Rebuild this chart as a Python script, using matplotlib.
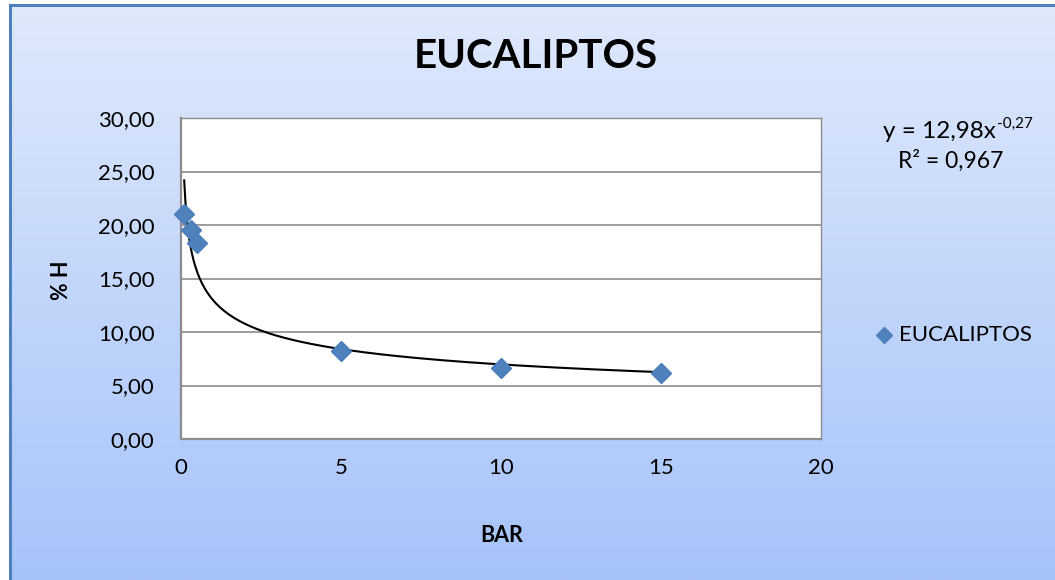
import numpy as np
import matplotlib
matplotlib.use("Agg")
import matplotlib.pyplot as plt
from matplotlib.colors import LinearSegmentedColormap

plt.rcParams['font.family'] = ['Lato', 'DejaVu Sans']

# Measured data: pressure (bar) vs moisture content (%)
bar = [0.1, 0.3, 0.5, 5, 10, 15]
humidity = [21.0, 19.5, 18.3, 8.2, 6.6, 6.2]
series_name = "EUCALIPTOS"

# Power trend line y = a * x^b
coef_a = 12.98
coef_b = -0.27
r_squared = 0.967

x_ticks = [0, 5, 10, 15, 20]
y_ticks = [0, 5, 10, 15, 20, 25, 30]


def comma(v, nd):
    return f"{v:.{nd}f}".replace('.', ',')


W, H = 1055, 580
fig = plt.figure(figsize=(W / 100, H / 100), dpi=100)
fig.patch.set_facecolor('white')

# Chart area with a vertical blue gradient and blue border
bg = fig.add_axes([10 / W, 0, 1 - 10 / W, 1 - 5 / H])
cmap = LinearSegmentedColormap.from_list('chartbg', ['#dfe9fc', '#a6c3f9'])
grad = np.linspace(0, 1, 256).reshape(-1, 1)
bg.imshow(grad, aspect='auto', cmap=cmap, extent=[0, 1, 0, 1], origin='upper')
bg.set_xlim(0, 1)
bg.set_ylim(0, 1)
bg.set_xticks([])
bg.set_yticks([])
for side in ['right', 'bottom']:
    bg.spines[side].set_visible(False)
for side in ['left', 'top']:
    bg.spines[side].set_color('#4f81bd')
    bg.spines[side].set_linewidth(2.2)

# Plot area
left, right = 181 / W, 821 / W
bottom, top = 1 - 439 / H, 1 - 118 / H
ax = fig.add_axes([left, bottom, right - left, top - bottom])
ax.set_facecolor('white')
ax.set_xlim(0, 20)
ax.set_ylim(0, 30)
ax.set_xticks(x_ticks)
ax.set_yticks(y_ticks)
ax.set_xticklabels([str(t) for t in x_ticks], fontsize=16)
ax.set_yticklabels([comma(t, 2) for t in y_ticks], fontsize=16)
ax.tick_params(axis='both', length=0)
ax.tick_params(axis='x', pad=14)
ax.tick_params(axis='y', pad=19)
ax.yaxis.grid(True, color='#8c8c8c', linewidth=1.2)
ax.set_axisbelow(True)
for side in ['top', 'right']:
    ax.spines[side].set_color('#8c8c8c')
    ax.spines[side].set_linewidth(1.0)
for side in ['left', 'bottom']:
    ax.spines[side].set_color('#8c8c8c')
    ax.spines[side].set_linewidth(1.6)

xs = np.linspace(min(bar), max(bar), 400)
ax.plot(xs, coef_a * xs ** coef_b, color='black', linewidth=1.5, zorder=3)
ax.plot(bar, humidity, linestyle='none', marker='D', markersize=10.5,
        color='#4f81bd', markeredgecolor='#4a7ebb', zorder=4, clip_on=False)

fig.text(536 / W, 1 - 57 / H, "EUCALIPTOS", fontsize=29, fontweight='bold',
         ha='center', va='center')
fig.text(502 / W, 1 - 535 / H, "BAR", fontsize=15.5, fontweight='bold',
         ha='center', va='center')
fig.text(62 / W, 1 - 280 / H, "% H", fontsize=15.5, fontweight='bold',
         ha='center', va='center', rotation=90)

# Trend line equation and R²
fig.text(996 / W, 1 - 138 / H, f"y = {comma(coef_a, 2)}x", fontsize=17.5,
         ha='right', va='baseline')
fig.text(997 / W, 1 - 128 / H, comma(coef_b, 2), fontsize=11,
         ha='left', va='baseline')
fig.text(951 / W, 1 - 161 / H, f"R² = {comma(r_squared, 3)}", fontsize=16.5,
         ha='center', va='center')

# Legend entry
fig.lines.append(plt.Line2D([884 / W], [1 - 335 / H], transform=fig.transFigure,
                            marker='D', markersize=8, color='#4f81bd', linestyle='none'))
fig.text(899 / W, 1 - 335 / H, series_name, fontsize=16, ha='left', va='center')

fig.savefig("out.png", dpi=100)
